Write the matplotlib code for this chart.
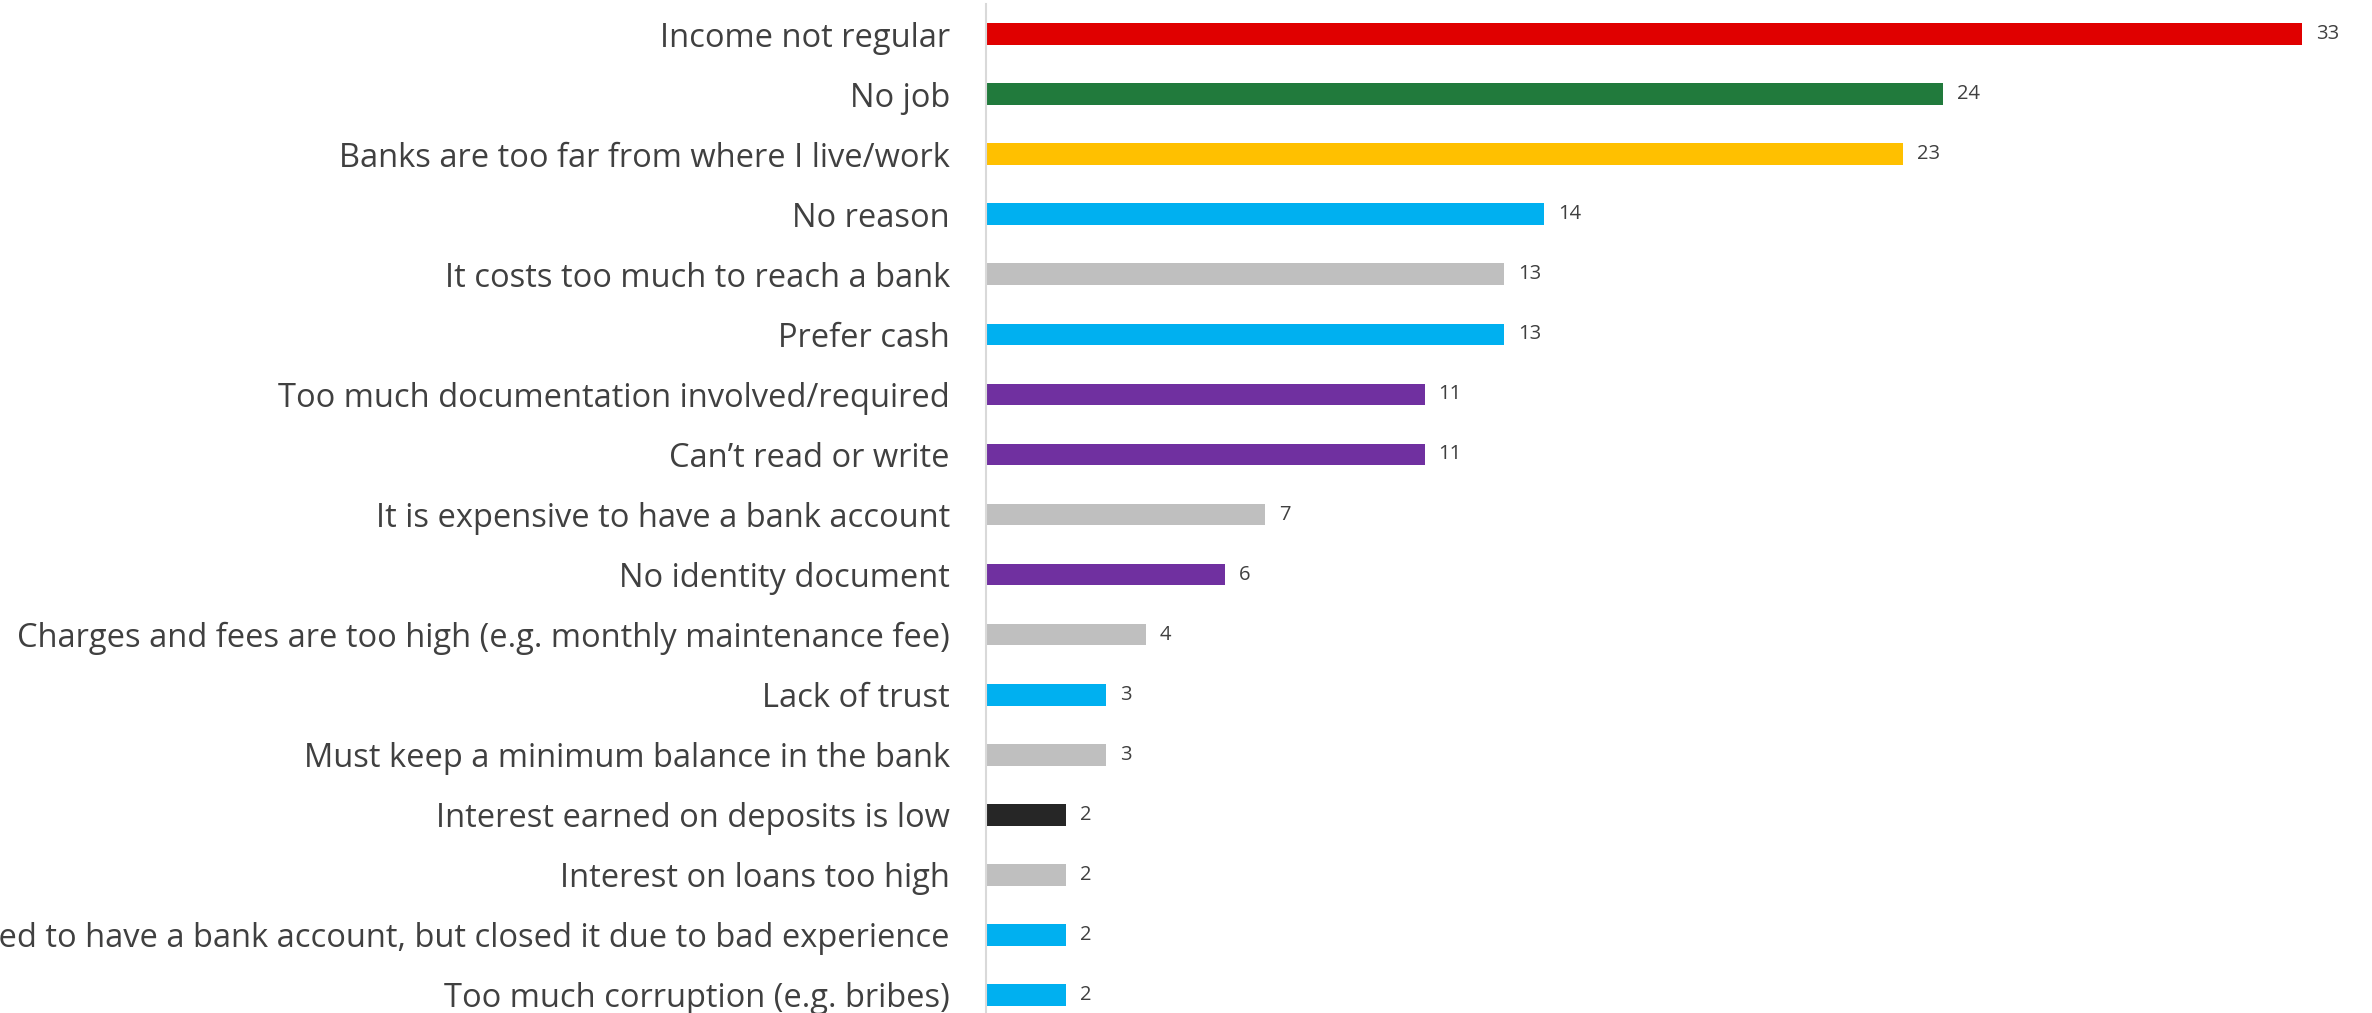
import matplotlib.pyplot as plt

plt.rcParams['font.family'] = ['Open Sans', 'DejaVu Sans']

# reasons for not having a bank account, top to bottom
reasons = [
    'Income not regular',
    'No job',
    'Banks are too far from where I live/work',
    'No reason',
    'It costs too much to reach a bank',
    'Prefer cash',
    'Too much documentation involved/required',
    'Can\u2019t read or write',
    'It is expensive to have a bank account',
    'No identity document',
    'Charges and fees are too high (e.g. monthly maintenance fee)',
    'Lack of trust',
    'Must keep a minimum balance in the bank',
    'Interest earned on deposits is low',
    'Interest on loans too high',
    'Used to have a bank account, but closed it due to bad experience',
    'Too much corruption (e.g. bribes)',
]
values = [33, 24, 23, 14, 13, 13, 11, 11, 7, 6, 4, 3, 3, 2, 2, 2, 2]

RED, GREEN, YELLOW = '#e00000', '#217a3c', '#ffc000'
BLUE, GREY, PURPLE, BLACK = '#00b0f0', '#bfbfbf', '#7030a0', '#262626'
colors = [RED, GREEN, YELLOW, BLUE, GREY, BLUE, PURPLE, PURPLE, GREY,
          PURPLE, GREY, BLUE, GREY, BLACK, GREY, BLUE, BLUE]

W, H = 2372, 1013
fig = plt.figure(figsize=(W / 100, H / 100), dpi=100)
left_px, top_px, step = 986, 4, 60.06
ax = fig.add_axes([left_px / W, 0, 1 - left_px / W, (H - top_px) / H])

y = list(range(len(reasons)))
bars = ax.barh(y, values, height=0.36, color=colors)

px_per_unit = 39.88
ax.set_xlim(0, (W - left_px) / px_per_unit)
ax.set_ylim((H - top_px) / step - 0.5, -0.5)

ax.set_yticks(y)
ax.set_yticklabels(reasons, fontsize=23.5, color='#404040')
ax.tick_params(axis='y', length=0, pad=26)
ax.set_xticks([])

for s in ['top', 'right', 'bottom']:
    ax.spines[s].set_visible(False)
ax.spines['left'].set_color('#d9d9d9')
ax.spines['left'].set_linewidth(1.5)

for b, v in zip(bars, values):
    ax.text(b.get_width() + 0.35, b.get_y() + b.get_height() / 2, str(v),
            va='center', ha='left', fontsize=14.5, color='#404040')

fig.savefig('out.png', dpi=100)
